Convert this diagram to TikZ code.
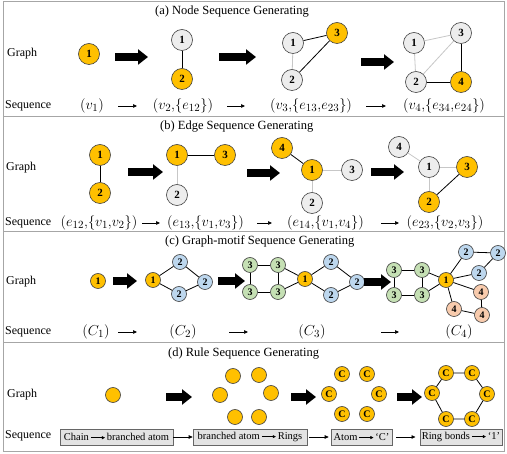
\documentclass[tikz,border=0pt]{standalone}
\usepackage{fontspec}
\setmainfont{Liberation Serif}
\usetikzlibrary{arrows.meta}
\definecolor{gold}{HTML}{FFC000}
\definecolor{ngray}{HTML}{EDEDED}
\definecolor{nblue}{HTML}{BDD7EE}
\definecolor{ngreen}{HTML}{C5E0B4}
\definecolor{npeach}{HTML}{F8CBAD}
\definecolor{frame}{HTML}{A6A6A6}
\definecolor{boxfill}{HTML}{E3E3E3}
\newcommand\inarr{\,\tikz[baseline=-0.6ex]\draw[line width=0.5pt,-{Triangle[length=3pt,width=3pt]}] (0pt,0pt)--(14pt,0pt);\,}
\newcommand\cm{{,}}
\begin{document}
\begin{tikzpicture}[x=1pt,y=-1pt,
  gn/.style={circle,draw=black!75,line width=0.6pt,minimum size=21pt,inner sep=0pt,font=\fontsize{11}{11}\selectfont\bfseries},
  sn/.style={circle,draw=black!75,line width=0.6pt,minimum size=15pt,inner sep=0pt,font=\fontsize{10}{10}\selectfont\bfseries},
  og/.style={fill=gold},
  gy/.style={fill=ngray},
  bl/.style={fill=nblue},
  gr/.style={fill=ngreen},
  pe/.style={fill=npeach},
  dk/.style={draw=black,line width=0.8pt},
  lt/.style={draw=black!22,line width=0.8pt},
  bigarr/.style={line width=7.5pt,-{Triangle[length=10pt,width=15pt]}},
  seqarr/.style={line width=0.7pt,-{Triangle[length=4pt,width=3.5pt]}},
  ttl/.style={font=\fontsize{12.5}{14}\selectfont,anchor=west,inner sep=0pt},
  lbl/.style={font=\fontsize{12}{14}\selectfont,anchor=west,inner sep=0pt},
  mth/.style={font=\fontsize{15}{17}\selectfont,inner sep=0pt},
  rbox/.style={draw=black!60,fill=boxfill,line width=0.6pt,minimum height=16pt,inner sep=2pt,font=\fontsize{10.5}{12}\selectfont}
]
\useasboundingbox (0,0) rectangle (507,454);
\fill[white] (0,0) rectangle (507,454);
% panel frames
\draw[frame,line width=1pt] (3,2) rectangle (504,117);
\draw[frame,line width=1pt] (3,117) rectangle (504,232);
\draw[frame,line width=1pt] (3,232) rectangle (504,343);
\draw[frame,line width=1pt] (3,343) rectangle (504,452);

% ================= (a)
\node[ttl] (ta) at (155,12) {(a) Node Sequence Generating};
\node[lbl] (ga) at (7,54) {Graph};
\node[lbl] (qa) at (5,106) {Sequence};
\node[gn,og] (a11) at (89,54) {1};
\coordinate (ab1s) at (115,57); \coordinate (ab1e) at (148,57);
\draw[bigarr] (ab1s) -- (ab1e);
\node[gn,gy] (a21) at (182,40) {1};
\node[gn,og] (a22) at (182,79) {2};
\draw[dk] (a21) -- (a22);
\coordinate (ab2s) at (219,57); \coordinate (ab2e) at (256,57);
\draw[bigarr] (ab2s) -- (ab2e);
\node[gn,gy] (a31) at (293,43) {1};
\node[gn,og] (a33) at (337,33) {3};
\node[gn,gy] (a32) at (292,80) {2};
\draw[lt] (a31) -- (a32);
\draw[dk] (a31) -- (a33);
\draw[dk] (a32) -- (a33);
\coordinate (ab3s) at (361,62); \coordinate (ab3e) at (394,62);
\draw[bigarr] (ab3s) -- (ab3e);
\node[gn,gy] (a41) at (414,43) {1};
\node[gn,gy] (a43) at (461,33) {3};
\node[gn,gy] (a42) at (416,82) {2};
\node[gn,og] (a44) at (461,82) {4};
\draw[lt] (a41) -- (a43);
\draw[lt] (a41) -- (a42);
\draw[lt] (a42) -- (a43);
\draw[dk] (a43) -- (a44);
\draw[dk] (a42) -- (a44);
\node[mth] (sa1) at (92,106) {$(v_1)$};
\node[mth] (sa2) at (183,106) {$(v_2\cm\{e_{12}\})$};
\node[mth] (sa3) at (311,106) {$(v_3\cm\{e_{13}\cm e_{23}\})$};
\node[mth] (sa4) at (444,106) {$(v_4\cm\{e_{34}\cm e_{24}\})$};
\coordinate (as1s) at (118,106); \coordinate (as1e) at (137,106);
\coordinate (as2s) at (227,106); \coordinate (as2e) at (245,106);
\coordinate (as3s) at (366,106); \coordinate (as3e) at (386,106);
\draw[seqarr] (as1s) -- (as1e);
\draw[seqarr] (as2s) -- (as2e);
\draw[seqarr] (as3s) -- (as3e);

% ================= (b)
\node[ttl] (tb) at (160,127) {(b) Edge Sequence Generating};
\node[lbl] (gb) at (6,168) {Graph};
\node[lbl] (qb) at (5,223) {Sequence};
\node[gn,og] (b11) at (100,155) {1};
\node[gn,og] (b12) at (100,193) {2};
\draw[dk] (b11) -- (b12);
\coordinate (bb1s) at (128,172); \coordinate (bb1e) at (163,172);
\draw[bigarr] (bb1s) -- (bb1e);
\node[gn,og] (b21) at (177,155) {1};
\node[gn,og] (b23) at (225,155) {3};
\node[gn,gy] (b22) at (177,195) {2};
\draw[dk] (b21) -- (b23);
\draw[lt] (b21) -- (b22);
\coordinate (bb2s) at (247,173); \coordinate (bb2e) at (280,173);
\draw[bigarr] (bb2s) -- (bb2e);
\node[gn,og] (b34) at (282,148) {4};
\node[gn,og] (b31) at (312,170) {1};
\node[gn,gy] (b33) at (352,170) {3};
\node[gn,gy] (b32) at (312,203) {2};
\draw[dk] (b34) -- (b31);
\draw[lt] (b31) -- (b33);
\draw[lt] (b31) -- (b32);
\coordinate (bb3s) at (371,172); \coordinate (bb3e) at (404,172);
\draw[bigarr] (bb3s) -- (bb3e);
\node[gn,gy] (b44) at (399,147) {4};
\node[gn,gy] (b41) at (429,167) {1};
\node[gn,og] (b43) at (467,167) {3};
\node[gn,og] (b42) at (429,202) {2};
\draw[lt] (b44) -- (b41);
\draw[lt] (b41) -- (b43);
\draw[lt] (b41) -- (b42);
\draw[dk] (b42) -- (b43);
\node[mth] (sb1) at (99,223) {$(e_{12}\cm\{v_1\cm v_2\})$};
\node[mth] (sb2) at (205.5,223) {$(e_{13}\cm\{v_1\cm v_3\})$};
\node[mth] (sb3) at (325.5,223) {$(e_{14}\cm\{v_1\cm v_4\})$};
\node[mth] (sb4) at (445,223) {$(e_{23}\cm\{v_2\cm v_3\})$};
\coordinate (bs1s) at (142,223); \coordinate (bs1e) at (160,223);
\coordinate (bs2s) at (257,223); \coordinate (bs2e) at (272,223);
\coordinate (bs3s) at (381,223); \coordinate (bs3e) at (399,223);
\draw[seqarr] (bs1s) -- (bs1e);
\draw[seqarr] (bs2s) -- (bs2e);
\draw[seqarr] (bs3s) -- (bs3e);

% ================= (c)
\node[ttl] (tc) at (165,241) {(c) Graph-motif Sequence Generating};
\node[lbl] (gc) at (6,282) {Graph};
\node[lbl] (qc) at (5,332) {Sequence};
\node[sn,og] (c11) at (98,281) {1};
\coordinate (cb1s) at (113,281); \coordinate (cb1e) at (137,281);
\draw[bigarr] (cb1s) -- (cb1e);
\node[sn,og] (c21) at (153,280) {1};
\node[sn,bl] (c2a) at (180,262) {2};
\node[sn,bl] (c2b) at (205,282) {2};
\node[sn,bl] (c2c) at (179,294) {2};
\draw[dk] (c21) -- (c2a) -- (c2b) -- (c2c) -- (c21);
\coordinate (cb2s) at (218,281); \coordinate (cb2e) at (245,281);
\draw[bigarr] (cb2s) -- (cb2e);
\node[sn,gr] (c3a) at (250,265) {3};
\node[sn,gr] (c3b) at (278,265) {3};
\node[sn,gr] (c3c) at (250,292) {3};
\node[sn,gr] (c3d) at (278,292) {3};
\node[sn,og] (c31) at (305,279) {1};
\node[sn,bl] (c3e) at (331,262) {2};
\node[sn,bl] (c3f) at (357,282) {2};
\node[sn,bl] (c3g) at (331,295) {2};
\draw[dk] (c3a) -- (c3b);
\draw[dk] (c3a) -- (c3c);
\draw[dk] (c3c) -- (c3d);
\draw[dk] (c3b) -- (c3d);
\draw[dk] (c3b) -- (c31);
\draw[dk] (c3d) -- (c31);
\draw[dk] (c31) -- (c3e) -- (c3f) -- (c3g) -- (c31);
\coordinate (cb3s) at (364,282); \coordinate (cb3e) at (391,282);
\draw[bigarr] (cb3s) -- (cb3e);
\node[sn,gr] (c4a) at (394,270) {3};
\node[sn,gr] (c4b) at (422,270) {3};
\node[sn,gr] (c4c) at (394,295) {3};
\node[sn,gr] (c4d) at (422,295) {3};
\node[sn,og] (c41) at (446,280) {1};
\node[sn,bl] (c4e) at (466,252) {2};
\node[sn,bl] (c4f) at (498,253) {2};
\node[sn,bl] (c4g) at (479,273) {2};
\node[sn,pe] (c4h) at (481,292) {4};
\node[sn,pe] (c4i) at (482,315) {4};
\node[sn,pe] (c4j) at (454,309) {4};
\draw[dk] (c4a) -- (c4b);
\draw[dk] (c4a) -- (c4c);
\draw[dk] (c4c) -- (c4d);
\draw[dk] (c4b) -- (c4d);
\draw[dk] (c4b) -- (c41);
\draw[dk] (c4d) -- (c41);
\draw[dk] (c41) -- (c4e) -- (c4f) -- (c4g) -- (c41);
\draw[dk] (c41) -- (c4h) -- (c4i) -- (c4j) -- (c41);
\node[mth] (sc1) at (96,332) {$(C_1)$};
\node[mth] (sc2) at (183,332) {$(C_2)$};
\node[mth] (sc3) at (312,332) {$(C_3)$};
\node[mth] (sc4) at (459,332) {$(C_4)$};
\coordinate (cs1s) at (118,332); \coordinate (cs1e) at (137,332);
\coordinate (cs2s) at (229,332); \coordinate (cs2e) at (248,332);
\coordinate (cs3s) at (381,332); \coordinate (cs3e) at (399,332);
\draw[seqarr] (cs1s) -- (cs1e);
\draw[seqarr] (cs2s) -- (cs2e);
\draw[seqarr] (cs3s) -- (cs3e);

% ================= (d)
\node[ttl] (td) at (168,354) {(d) Rule Sequence Generating};
\node[lbl] (gd) at (7,395) {Graph};
\node[lbl] (qd) at (5,436) {Sequence};
\node[sn,og] (d1) at (113,395) {};
\coordinate (db1s) at (166,397); \coordinate (db1e) at (192,397);
\draw[bigarr] (db1s) -- (db1e);
\node[sn,og] (d2a) at (233,376) {};
\node[sn,og] (d2b) at (259,375) {};
\node[sn,og] (d2c) at (220,395) {};
\node[sn,og] (d2d) at (271,393) {};
\node[sn,og] (d2e) at (235,417) {};
\node[sn,og] (d2f) at (259,417) {};
\coordinate (db2s) at (291,397); \coordinate (db2e) at (316,397);
\draw[bigarr] (db2s) -- (db2e);
\node[sn,og] (d3a) at (342,374) {C};
\node[sn,og] (d3b) at (367,374) {C};
\node[sn,og] (d3c) at (329,394) {C};
\node[sn,og] (d3d) at (379,394) {C};
\node[sn,og] (d3e) at (342,414) {C};
\node[sn,og] (d3f) at (367,414) {C};
\coordinate (db3s) at (397,397); \coordinate (db3e) at (422,397);
\draw[bigarr] (db3s) -- (db3e);
\node[sn,og] (d4a) at (446,373) {C};
\node[sn,og] (d4b) at (472,373) {C};
\node[sn,og] (d4c) at (432,393) {C};
\node[sn,og] (d4d) at (487,394) {C};
\node[sn,og] (d4e) at (446,419) {C};
\node[sn,og] (d4f) at (472,419) {C};
\draw[dk] (d4a) -- (d4b) -- (d4d) -- (d4f) -- (d4e) -- (d4c) -- (d4a);
\node[rbox,minimum width=113pt] (r1) at (116.5,437) {Chain\inarr branched atom};
\node[rbox,minimum width=114pt] (r2) at (250,437) {branched atom\inarr Rings};
\node[rbox,minimum width=61pt] (r3) at (361.5,437) {Atom\inarr ‘C’};
\node[rbox,minimum width=80pt] (r4) at (461,437) {Ring bonds\inarr ‘1’};
\draw[seqarr,line width=0.6pt] (r1) -- (r2);
\draw[seqarr,line width=0.6pt,shorten <=2pt,shorten >=2pt] (r2) -- (r3);
\draw[seqarr,line width=0.6pt,shorten <=4pt,shorten >=4pt] (r3) -- (r4);
\end{tikzpicture}
\end{document}
